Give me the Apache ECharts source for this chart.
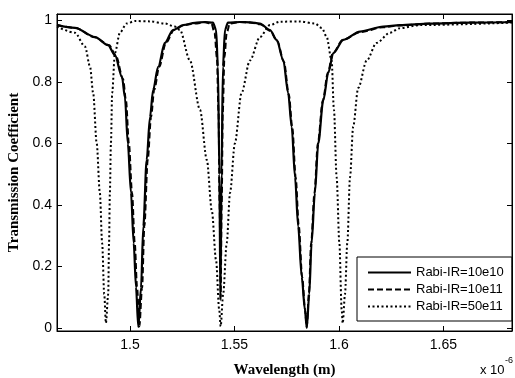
<!DOCTYPE html>
<html>
<head>
<meta charset="utf-8">
<script src="https://cdn.jsdelivr.net/npm/echarts@6/dist/echarts.min.js"></script>
<style>
html,body{margin:0;padding:0;background:#fff;}
#chart{width:515px;height:378px;}
</style>
</head>
<body>
<div id="chart"></div>
<script>
// Wavelength in units of 1e-6 m
var wlSolid = [1.4651,1.4737,1.4833,1.4895,1.4928,1.4962,1.4976,1.4990,1.5005,1.5018,1.5029,1.5040,1.5053,1.5064,1.5080,1.5096,1.5111,1.5135,1.5167,1.5206,1.5254,1.5311,1.5359,1.5397,1.5412,1.5421,1.5428,1.5433,1.5438,1.5445,1.5455,1.5469,1.5526,1.5574,1.5622,1.5670,1.5702,1.5734,1.5757,1.5774,1.5790,1.5805,1.5822,1.5837,1.5846,1.5858,1.5869,1.5885,1.5901,1.5925,1.5949,1.5973,1.6021,1.6101,1.6212,1.6292,1.6436,1.6627,1.6828];
var tSolid  = [0.985,0.976,0.946,0.920,0.888,0.816,0.750,0.600,0.440,0.276,0.133,0.003,0.130,0.330,0.546,0.686,0.774,0.849,0.927,0.969,0.985,0.992,0.995,0.993,0.970,0.850,0.500,0.090,0.500,0.850,0.970,0.993,0.995,0.994,0.990,0.969,0.937,0.870,0.764,0.654,0.490,0.330,0.166,0.060,0.000,0.110,0.276,0.440,0.600,0.740,0.830,0.894,0.937,0.964,0.980,0.985,0.990,0.993,0.995];

var wlDashed = [1.4651,1.4737,1.4833,1.4900,1.4933,1.4967,1.4981,1.4995,1.5010,1.5023,1.5034,1.5045,1.5058,1.5069,1.5085,1.5101,1.5116,1.5140,1.5172,1.5211,1.5259,1.5311,1.5359,1.5390,1.5405,1.5416,1.5424,1.5429,1.5434,1.5439,1.5444,1.5452,1.5463,1.5478,1.5526,1.5574,1.5622,1.5672,1.5705,1.5737,1.5760,1.5777,1.5793,1.5808,1.5824,1.5838,1.5846,1.5856,1.5867,1.5883,1.5899,1.5923,1.5947,1.5971,1.6019,1.6101,1.6212,1.6292,1.6436,1.6627,1.6828];
var tDashed  = [0.985,0.976,0.945,0.920,0.885,0.810,0.740,0.600,0.440,0.276,0.133,0.005,0.130,0.330,0.546,0.686,0.774,0.849,0.927,0.969,0.985,0.990,0.994,0.990,0.960,0.880,0.700,0.400,0.100,0.400,0.700,0.880,0.960,0.990,0.995,0.993,0.988,0.966,0.932,0.865,0.760,0.650,0.490,0.330,0.166,0.060,0.003,0.110,0.276,0.440,0.600,0.740,0.830,0.894,0.937,0.962,0.978,0.984,0.990,0.993,0.995];

var wlDotted = [1.4651,1.4737,1.4785,1.4809,1.4824,1.4841,1.4856,1.4867,1.4877,1.4885,1.4896,1.4900,1.4904,1.4909,1.4915,1.4928,1.4952,1.4984,1.5024,1.5096,1.5167,1.5215,1.5239,1.5287,1.5335,1.5368,1.5392,1.5412,1.5427,1.5434,1.5446,1.5463,1.5479,1.5502,1.5534,1.5574,1.5622,1.5670,1.5718,1.5813,1.5885,1.5919,1.5941,1.5965,1.5976,1.5989,1.6002,1.6013,1.6018,1.6029,1.6040,1.6053,1.6068,1.6092,1.6133,1.6180,1.6244,1.6292,1.6388,1.6828];
var tDotted  = [0.980,0.960,0.915,0.850,0.764,0.600,0.440,0.276,0.110,0.016,0.110,0.276,0.440,0.600,0.764,0.894,0.960,0.990,0.998,0.997,0.990,0.980,0.969,0.870,0.710,0.546,0.380,0.220,0.060,0.005,0.110,0.276,0.440,0.600,0.764,0.870,0.946,0.985,0.996,0.997,0.990,0.975,0.947,0.870,0.710,0.490,0.276,0.060,0.015,0.110,0.276,0.490,0.654,0.780,0.870,0.927,0.960,0.975,0.985,0.993];

var seriesNames = ['Rabi-IR=10e10','Rabi-IR=10e11','Rabi-IR=50e11'];
var xTicks = [1.5, 1.55, 1.6, 1.65];
var yTicks = [0, 0.2, 0.4, 0.6, 0.8, 1];

function pairs(xs, ys){ var o=[]; for(var i=0;i<xs.length;i++) o.push([xs[i], ys[i]]); return o; }
function fmtY(v){ return (v===0||v===1) ? String(v) : v.toFixed(1); }

var xMin = 1.4651, xMax = 1.6828, yMin = -0.01, yMax = 1.021;
var labelFont = {fontFamily:'Liberation Sans, Arial, sans-serif', fontSize:14, color:'#000'};
var titleFont = {fontFamily:'Liberation Serif, Times New Roman, serif', fontWeight:'bold', fontSize:15, color:'#000'};

var chart = echarts.init(document.getElementById('chart'));
chart.setOption({
  animation:false,
  backgroundColor:'#fff',
  grid:{left:57, right:3, top:14, bottom:47, show:true, borderColor:'#000', borderWidth:1, backgroundColor:'#fff',
        containLabel:false, outerBoundsMode:'none'},
  xAxis:[{
    type:'value', min:xMin, max:xMax, position:'bottom',
    axisLine:{show:true, onZero:false, lineStyle:{color:'#000', width:1}},
    axisTick:{show:true, inside:true, length:5, lineStyle:{color:'#000'}, customValues:xTicks},
    axisLabel:Object.assign({show:true, margin:7, customValues:xTicks, formatter:function(v){return String(v);}}, labelFont),
    splitLine:{show:false},
    name:'Wavelength (m)', nameLocation:'middle', nameGap:32, nameTextStyle:titleFont
  },{
    type:'value', min:xMin, max:xMax, position:'top',
    axisLine:{show:true, onZero:false, lineStyle:{color:'#000', width:1}},
    axisTick:{show:true, inside:true, length:5, lineStyle:{color:'#000'}, customValues:xTicks},
    axisLabel:{show:false}, splitLine:{show:false}
  }],
  yAxis:[{
    type:'value', min:yMin, max:yMax, position:'left',
    axisLine:{show:true, onZero:false, lineStyle:{color:'#000', width:1}},
    axisTick:{show:true, inside:true, length:5, lineStyle:{color:'#000'}, customValues:yTicks},
    axisLabel:Object.assign({show:true, margin:5, customValues:yTicks, formatter:fmtY}, labelFont),
    splitLine:{show:false},
    name:'Transmission Coefficient', nameLocation:'middle', nameGap:32, nameRotate:90, nameTextStyle:titleFont
  },{
    type:'value', min:yMin, max:yMax, position:'right',
    axisLine:{show:true, onZero:false, lineStyle:{color:'#000', width:1}},
    axisTick:{show:true, inside:true, length:5, lineStyle:{color:'#000'}, customValues:yTicks},
    axisLabel:{show:false}, splitLine:{show:false}
  }],
  legend:{
    orient:'vertical', left:357, top:257,
    padding:[9,8,8,10], itemGap:4, itemWidth:43, itemHeight:14,
    backgroundColor:'#fff', borderColor:'#000', borderWidth:1, borderRadius:0,
    itemStyle:{opacity:0, borderWidth:0, color:'rgba(0,0,0,0)'},
    textStyle:{fontFamily:'Liberation Sans, Arial, sans-serif', fontSize:13, color:'#000'},
    data:seriesNames.map(function(n){return {name:n};})
  },
  graphic:[
    {type:'text', left:480, top:364, style:{text:'x 10', font:'13px "Liberation Sans", Arial, sans-serif', fill:'#000'}},
    {type:'text', left:505, top:356, style:{text:'-6', font:'9px "Liberation Sans", Arial, sans-serif', fill:'#000'}}
  ],
  series:[
    {name:seriesNames[2], type:'line', data:pairs(wlDotted,tDotted), showSymbol:false, symbol:'none', smooth:0.3, smoothMonotone:'x',
     lineStyle:{color:'#000', width:2, type:[2,2.5]}, itemStyle:{color:'#000'}, z:2},
    {name:seriesNames[1], type:'line', data:pairs(wlDashed,tDashed), showSymbol:false, symbol:'none', smooth:0.3, smoothMonotone:'x',
     lineStyle:{color:'#000', width:2, type:[6,3]}, itemStyle:{color:'#000'}, z:3},
    {name:seriesNames[0], type:'line', data:pairs(wlSolid,tSolid), showSymbol:false, symbol:'none', smooth:0.3, smoothMonotone:'x',
     lineStyle:{color:'#000', width:2.2, type:'solid'}, itemStyle:{color:'#000'}, z:4}
  ]
});
</script>
</body>
</html>
